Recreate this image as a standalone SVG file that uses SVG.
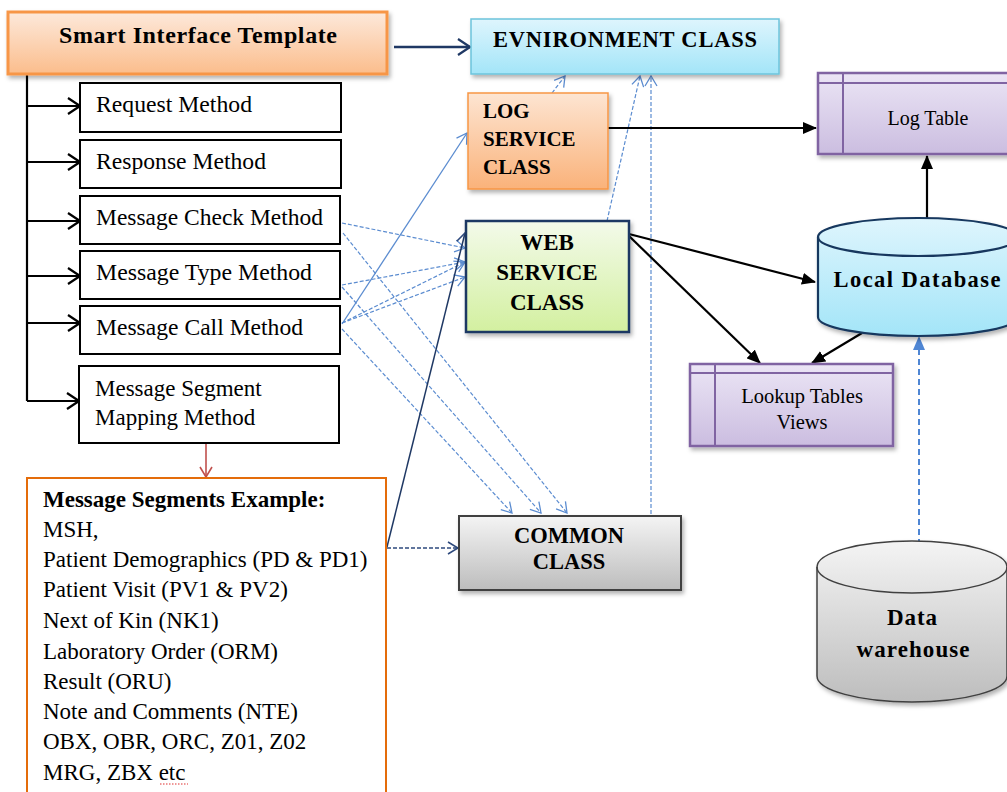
<svg xmlns="http://www.w3.org/2000/svg" width="1007" height="792" viewBox="0 0 1007 792">
<defs>
<style>
.serif{font-family:"Liberation Serif","Times New Roman",serif;fill:#000}
.b{font-weight:bold}
.mbox{fill:#fff;stroke:#000;stroke-width:2}
.mt{font-family:"Liberation Serif","Times New Roman",serif;font-size:23px;fill:#000}
.tree{fill:none;stroke:#000;stroke-width:2.2}
.lb{fill:none;stroke:#5b8cd0;stroke-width:1.2;stroke-dasharray:4 2}
.blk{fill:none;stroke:#000;stroke-width:2.2}
.tbl{stroke:#8064a2;stroke-width:2.5}
.tbli{fill:none;stroke:#8064a2;stroke-width:2}
</style>
<linearGradient id="gOr" x1="0" y1="0" x2="0" y2="1"><stop offset="0" stop-color="#fde9db"/><stop offset="1" stop-color="#fbbd8c"/></linearGradient>
<linearGradient id="gOr2" x1="0" y1="0" x2="0" y2="1"><stop offset="0" stop-color="#fde5d2"/><stop offset="1" stop-color="#fab27a"/></linearGradient>
<linearGradient id="gCy" x1="0" y1="0" x2="0" y2="1"><stop offset="0" stop-color="#def5fd"/><stop offset="1" stop-color="#a3e5f8"/></linearGradient>
<linearGradient id="gGr" x1="0" y1="0" x2="0" y2="1"><stop offset="0" stop-color="#f3faea"/><stop offset="1" stop-color="#d3f0a0"/></linearGradient>
<linearGradient id="gGy" x1="0" y1="0" x2="0" y2="1"><stop offset="0" stop-color="#f4f4f4"/><stop offset="1" stop-color="#bdbdbd"/></linearGradient>
<linearGradient id="gPu" x1="0" y1="0" x2="0" y2="1"><stop offset="0" stop-color="#ebe5f5"/><stop offset="1" stop-color="#cbbde0"/></linearGradient>
<filter id="sh" x="-10%" y="-10%" width="130%" height="140%"><feDropShadow dx="2" dy="3" stdDeviation="2" flood-color="#000" flood-opacity="0.3"/></filter>
<marker id="aTree" markerUnits="userSpaceOnUse" viewBox="0 0 14 18" refX="13" refY="9" markerWidth="14" markerHeight="18" orient="auto"><path d="M1,1 L13,9 L1,17" fill="none" stroke="#000" stroke-width="2.2"/></marker>
<marker id="aNavy" markerUnits="userSpaceOnUse" viewBox="0 0 14 18" refX="13" refY="9" markerWidth="14" markerHeight="18" orient="auto"><path d="M1,1 L13,9 L1,17" fill="none" stroke="#1f3864" stroke-width="2.2"/></marker>
<marker id="aNavyS" markerUnits="userSpaceOnUse" viewBox="0 0 12 14" refX="11" refY="7" markerWidth="12" markerHeight="14" orient="auto"><path d="M1,1 L11,7 L1,13" fill="none" stroke="#2e4a7d" stroke-width="1.6"/></marker>
<marker id="aLb" markerUnits="userSpaceOnUse" viewBox="0 0 12 14" refX="11" refY="7" markerWidth="12" markerHeight="14" orient="auto"><path d="M1,1 L11,7 L1,13" fill="none" stroke="#5b8cd0" stroke-width="1.3"/></marker>
<marker id="aRed" markerUnits="userSpaceOnUse" viewBox="0 0 12 14" refX="11" refY="7" markerWidth="12" markerHeight="14" orient="auto"><path d="M1,1 L11,7 L1,13" fill="none" stroke="#c0504d" stroke-width="1.6"/></marker>
<marker id="aBlk" markerUnits="userSpaceOnUse" viewBox="0 0 14 12" refX="13" refY="6" markerWidth="14" markerHeight="12" orient="auto"><path d="M0,0 L14,6 L0,12 Z" fill="#000"/></marker>
<marker id="aBlu" markerUnits="userSpaceOnUse" viewBox="0 0 14 12" refX="13" refY="6" markerWidth="14" markerHeight="12" orient="auto"><path d="M0,0 L14,6 L0,12 Z" fill="#4f86d4"/></marker>
</defs>
<rect width="1007" height="792" fill="#fff"/>

<g id="connectors">
  <polyline class="tree" points="27,74 27,401"/>
  <line class="tree" x1="27" y1="106" x2="80" y2="106" marker-end="url(#aTree)"/>
  <line class="tree" x1="27" y1="162" x2="80" y2="162" marker-end="url(#aTree)"/>
  <line class="tree" x1="27" y1="221" x2="80" y2="221" marker-end="url(#aTree)"/>
  <line class="tree" x1="27" y1="276" x2="80" y2="276" marker-end="url(#aTree)"/>
  <line class="tree" x1="27" y1="323" x2="80" y2="323" marker-end="url(#aTree)"/>
  <line class="tree" x1="27" y1="401" x2="79" y2="401" marker-end="url(#aTree)"/>
  <line x1="394" y1="47" x2="470" y2="47" stroke="#1f3864" stroke-width="2.5" marker-end="url(#aNavy)"/>
  <line x1="206" y1="443" x2="206" y2="477" stroke="#c0504d" stroke-width="1.6" marker-end="url(#aRed)"/>
  <line class="lb" x1="342" y1="223" x2="465" y2="248" marker-end="url(#aLb)"/>
  <line class="lb" x1="343" y1="233" x2="567" y2="513" marker-end="url(#aLb)"/>
  <line class="lb" x1="342" y1="285" x2="465" y2="262" marker-end="url(#aLb)"/>
  <line class="lb" x1="342" y1="287" x2="541" y2="513" marker-end="url(#aLb)"/>
  <line class="lb" x1="342" y1="323" x2="465" y2="262" marker-end="url(#aLb)"/>
  <line class="lb" x1="342" y1="323" x2="465" y2="277" marker-end="url(#aLb)"/>
  <line class="lb" x1="342" y1="329" x2="512" y2="513" marker-end="url(#aLb)"/>
  <line x1="342" y1="324" x2="467" y2="133" fill="none" stroke="#5b8cd0" stroke-width="1.3" marker-end="url(#aLb)"/>
  <line class="lb" x1="552" y1="93" x2="565" y2="76" marker-end="url(#aLb)"/>
  <line class="lb" x1="607" y1="221" x2="640" y2="76" marker-end="url(#aLb)"/>
  <line class="lb" x1="651" y1="514" x2="651" y2="76" marker-end="url(#aLb)"/>
  <line x1="387" y1="547" x2="465" y2="233" stroke="#1f3864" stroke-width="1.5" marker-end="url(#aNavyS)"/>
  <line x1="387" y1="548" x2="458" y2="548" stroke="#2e4a7d" stroke-width="1.6" stroke-dasharray="4 2" marker-end="url(#aNavyS)"/>
  <line class="blk" x1="608" y1="128" x2="816" y2="128" marker-end="url(#aBlk)"/>
  <line class="blk" x1="927" y1="218" x2="927" y2="156" marker-end="url(#aBlk)"/>
  <line class="blk" x1="629" y1="234" x2="815" y2="282" marker-end="url(#aBlk)"/>
  <line class="blk" x1="629" y1="236" x2="760" y2="363" marker-end="url(#aBlk)"/>
  <line class="blk" x1="862" y1="333" x2="812" y2="363" marker-end="url(#aBlk)"/>
  <line x1="919" y1="545" x2="919" y2="337" stroke="#4f86d4" stroke-width="2" stroke-dasharray="6 4" marker-end="url(#aBlu)"/>
</g>

<g id="smart">
  <rect x="8" y="12" width="379" height="62" fill="url(#gOr)" stroke="#f79646" stroke-width="3" filter="url(#sh)"/>
  <text class="serif b" x="198" y="43" font-size="24" text-anchor="middle" textLength="278" lengthAdjust="spacing">Smart Interface Template</text>
</g>

<g id="request"><rect class="mbox" x="80" y="83" width="261" height="49"/><text class="mt" x="96" y="112" textLength="156" lengthAdjust="spacingAndGlyphs">Request Method</text></g>
<g id="response"><rect class="mbox" x="80" y="140" width="261" height="48"/><text class="mt" x="96" y="169" textLength="170" lengthAdjust="spacingAndGlyphs">Response Method</text></g>
<g id="check"><rect class="mbox" x="80" y="196" width="260" height="48"/><text class="mt" x="96" y="225" textLength="227" lengthAdjust="spacingAndGlyphs">Message Check Method</text></g>
<g id="type"><rect class="mbox" x="80" y="251" width="260" height="48"/><text class="mt" x="96" y="280" textLength="216" lengthAdjust="spacingAndGlyphs">Message Type Method</text></g>
<g id="call"><rect class="mbox" x="80" y="306" width="260" height="48"/><text class="mt" x="96" y="335" textLength="207" lengthAdjust="spacingAndGlyphs">Message Call Method</text></g>
<g id="mapping"><rect class="mbox" x="79" y="366" width="260" height="77"/>
  <text class="mt" x="95" y="396">Message Segment</text>
  <text class="mt" x="95" y="425">Mapping Method</text></g>

<g id="environment">
  <rect x="471" y="19" width="308" height="55" fill="url(#gCy)" stroke="#6cc4dc" stroke-width="1.5" filter="url(#sh)"/>
  <text class="serif b" x="625" y="47" font-size="22.5" text-anchor="middle" textLength="264" lengthAdjust="spacing">EVNIRONMENT CLASS</text>
</g>

<g id="logservice">
  <rect x="468" y="93" width="140" height="96" fill="url(#gOr2)" stroke="#f79646" stroke-width="1.5" filter="url(#sh)"/>
  <text class="serif b" font-size="21"><tspan x="483" y="118">LOG</tspan><tspan x="483" y="146">SERVICE</tspan><tspan x="483" y="174">CLASS</tspan></text>
</g>

<g id="webservice">
  <rect x="466" y="221" width="163" height="111" fill="url(#gGr)" stroke="#1f3864" stroke-width="2.5" filter="url(#sh)"/>
  <text class="serif b" font-size="23" text-anchor="middle"><tspan x="547" y="250">WEB</tspan><tspan x="547" y="280">SERVICE</tspan><tspan x="547" y="310">CLASS</tspan></text>
</g>

<g id="common">
  <rect x="459" y="516" width="222" height="74" fill="url(#gGy)" stroke="#404040" stroke-width="2" filter="url(#sh)"/>
  <text class="serif b" font-size="22.5" text-anchor="middle"><tspan x="569" y="543">COMMON</tspan><tspan x="569" y="569">CLASS</tspan></text>
</g>

<g id="logtable">
  <rect class="tbl" x="818" y="73" width="220" height="81" fill="url(#gPu)" filter="url(#sh)"/>
  <line class="tbli" x1="843" y1="73" x2="843" y2="154"/>
  <line class="tbli" x1="818" y1="83" x2="1038" y2="83"/>
  <text class="serif" x="928" y="125" font-size="20" text-anchor="middle">Log Table</text>
</g>

<g id="localdb">
  <path d="M818,237 A100,19 0 0 1 1018,237 L1018,317 A100,19 0 0 1 818,317 Z" fill="url(#gCy)" stroke="#17375e" stroke-width="2.2" filter="url(#sh)"/>
  <path d="M818,237 A100,19 0 0 0 1018,237" fill="none" stroke="#17375e" stroke-width="2.2"/>
  <text class="serif b" x="917" y="287" font-size="22.5" text-anchor="middle" textLength="167" lengthAdjust="spacing">Local Database</text>
</g>

<g id="lookup">
  <rect class="tbl" x="690" y="364" width="203" height="82" fill="url(#gPu)" filter="url(#sh)"/>
  <line class="tbli" x1="715" y1="364" x2="715" y2="446"/>
  <line class="tbli" x1="690" y1="373" x2="893" y2="373"/>
  <text class="serif" font-size="20.5" text-anchor="middle"><tspan x="802" y="403">Lookup Tables</tspan><tspan x="802" y="429">Views</tspan></text>
</g>

<g id="datawarehouse">
  <path d="M817,567 A95,26 0 0 1 1007,567 L1007,676 A95,26 0 0 1 817,676 Z" fill="url(#gGy)" stroke="#404040" stroke-width="1.5" filter="url(#sh)"/>
  <path d="M817,567 A95,26 0 0 0 1007,567" fill="none" stroke="#404040" stroke-width="1.5"/>
  <text class="serif b" x="912" y="625" font-size="23" text-anchor="middle" textLength="50" lengthAdjust="spacing">Data</text>
  <text class="serif b" x="913" y="657" font-size="23" text-anchor="middle" textLength="113" lengthAdjust="spacing">warehouse</text>
</g>

<g id="segments">
  <rect x="27" y="478" width="359" height="330" fill="#fff" stroke="#e46c0a" stroke-width="2"/>
  <g class="serif" font-size="23">
    <text class="b" x="43" y="507">Message Segments Example:</text>
    <text x="43" y="537">MSH,</text>
    <text x="43" y="567">Patient Demographics (PD &amp; PD1)</text>
    <text x="43" y="597">Patient Visit (PV1 &amp; PV2)</text>
    <text x="43" y="628">Next of Kin (NK1)</text>
    <text x="43" y="659">Laboratory Order (ORM)</text>
    <text x="43" y="689">Result (ORU)</text>
    <text x="43" y="719">Note and Comments (NTE)</text>
    <text x="43" y="749">OBX, OBR, ORC, Z01, Z02</text>
    <text x="43" y="780">MRG, ZBX etc</text>
  </g>
  <line x1="160" y1="784" x2="188" y2="784" stroke="#e03030" stroke-width="1.2" stroke-dasharray="1.5 1.5"/>
</g>
</svg>
